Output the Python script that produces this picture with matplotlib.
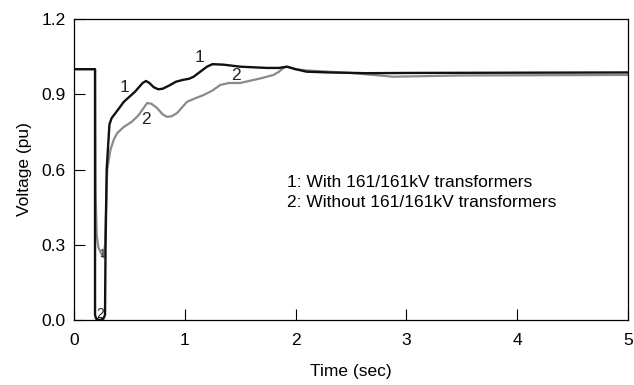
import numpy as np
from matplotlib import pyplot as plt

plt.rcParams['font.family'] = ['Liberation Sans', 'DejaVu Sans']

# curve 1: with 161/161kV transformers
t_with = [0.0, 0.19, 0.19, 0.20, 0.235, 0.265, 0.28, 0.285, 0.295, 0.32, 0.34,
          0.40, 0.45, 0.55, 0.62, 0.65, 0.68, 0.72, 0.76, 0.80, 0.86, 0.92,
          0.98, 1.04, 1.08, 1.14, 1.20, 1.25, 1.35, 1.5, 1.74, 1.85, 1.92,
          2.0, 2.1, 2.3, 2.64, 3.0, 5.0]
v_with = [1.0, 1.0, 0.02, 0.005, 0.0, 0.005, 0.02, 0.3, 0.6, 0.78, 0.805,
          0.84, 0.87, 0.91, 0.945, 0.953, 0.945, 0.928, 0.92, 0.922, 0.935, 0.95,
          0.957, 0.962, 0.97, 0.99, 1.01, 1.02, 1.018, 1.01, 1.005, 1.005, 1.01,
          1.0, 0.99, 0.987, 0.984, 0.985, 0.987]

# curve 2: without 161/161kV transformers
t_without = [0.0, 0.19, 0.195, 0.205, 0.22, 0.24, 0.265, 0.28, 0.29, 0.30,
             0.33, 0.36, 0.39, 0.45, 0.52, 0.58, 0.62, 0.66, 0.70, 0.75, 0.80,
             0.84, 0.88, 0.93, 0.98, 1.02, 1.10, 1.17, 1.25, 1.32, 1.40, 1.5,
             1.6, 1.7, 1.8, 1.85, 1.89, 1.93, 2.0, 2.1, 2.5, 2.88, 3.5, 5.0]
v_without = [1.0, 1.0, 0.5, 0.34, 0.29, 0.27, 0.25, 0.3, 0.45, 0.6,
             0.68, 0.72, 0.745, 0.77, 0.79, 0.815, 0.84, 0.865, 0.862, 0.845, 0.82,
             0.81, 0.812, 0.825, 0.85, 0.87, 0.885, 0.897, 0.915, 0.937, 0.945, 0.945,
             0.955, 0.965, 0.977, 0.99, 1.005, 1.01, 1.0, 0.995, 0.985, 0.97,
             0.975, 0.977]

# curve number labels (t, v, text, size)
labels = [(0.46, 0.925, '1', 12.5), (1.13, 1.045, '1', 12.5),
          (0.65, 0.80, '2', 12.5), (1.46, 0.973, '2', 12.5),
          (0.235, 0.022, '2', 10), (0.25, 0.265, '1', 7)]

fig = plt.figure(figsize=(6.34, 3.85), dpi=100)
ax = fig.add_axes([0.1167, 0.1688, 0.8738, 0.7818])

ax.plot(t_without, v_without, color='#8a8a8a', lw=1.6)
ax.plot(t_with, v_with, color='#111111', lw=1.7)

for t, v, s, fs in labels:
    ax.text(t, v, s, fontsize=fs, ha='center', va='center', color='#222222')

ax.text(1.92, 0.55, '1: With 161/161kV transformers', fontsize=12.5, va='center')
ax.text(1.92, 0.467, '2: Without 161/161kV transformers', fontsize=12.5, va='center')

ax.set_xlim(0, 5)
ax.set_ylim(0, 1.2)
ax.set_xticks([0, 1, 2, 3, 4, 5])
ax.set_yticks([0.0, 0.3, 0.6, 0.9, 1.2])
ax.set_yticklabels(['0.0', '0.3', '0.6', '0.9', '1.2'])
ax.tick_params(direction='in', length=8, width=0.8, labelsize=12.5, pad=6)
ax.tick_params(axis='x', pad=9)
for sp in ax.spines.values():
    sp.set_linewidth(0.9)
ax.set_xlabel('Time (sec)', fontsize=12.5, labelpad=12)
ax.set_ylabel('Voltage (pu)', fontsize=12.5, labelpad=7)

fig.savefig('out.png', dpi=100)
